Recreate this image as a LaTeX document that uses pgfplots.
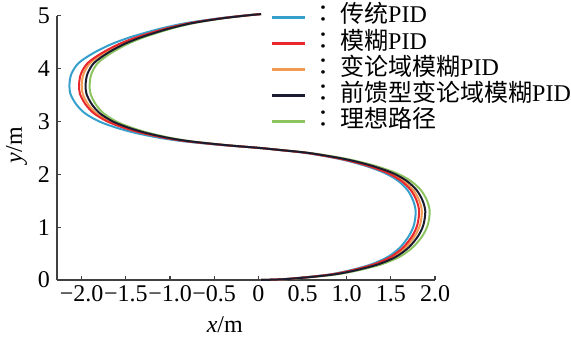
\documentclass[border=0pt]{standalone}
\usepackage{fontspec}
\setmainfont{Liberation Serif}
\newfontfamily\cjk{Noto Sans CJK SC}
\newfontfamily\cjktc{Noto Sans CJK TC}
\usepackage{pgfplots}
\pgfplotsset{compat=1.18}
\definecolor{cblue}{HTML}{35A0CC}
\definecolor{cred}{HTML}{E8282C}
\definecolor{corange}{HTML}{F29A52}
\definecolor{cblack}{HTML}{1C1C30}
\definecolor{cgreen}{HTML}{8DC460}
\definecolor{axgray}{HTML}{404040}
\newcommand{\lsep}{\makebox[17pt][c]{\cjktc ：}}
\begin{document}
\begin{tikzpicture}
\useasboundingbox (-28.5pt,-31pt) rectangle (257pt,140pt);
\begin{axis}[
  scale only axis, width=189pt, height=132.15pt,
  xmin=-2.28, xmax=2.0, ymin=0, ymax=5,
  clip=false,
  axis x line*=bottom, axis y line*=left,
  axis line style={-, draw=axgray, line width=0.6pt},
  tick style={draw=axgray, line width=0.6pt},
  tick align=inside, major tick length=2.2pt,
  xtick={-2,-1.5,-1,-0.5,0,0.5,1,1.5,2},
  xticklabels={−2.0,−1.5,−1.0,−0.5,0,0.5,1.0,1.5,2.0},
  ytick={0,1,2,3,4,5},
  /pgf/number format/assume math mode=true,
  font=\fontsize{12}{14}\selectfont,
  ticklabel style={font=\fontsize{12}{14}\selectfont},
  xticklabel style={inner sep=2.5pt},
  xlabel={\textit{x}/m}, ylabel={\textit{y}/m},
  xlabel style={at={(axis description cs:0.444,-0.2005)}, anchor=base},
  ylabel style={at={(axis description cs:-0.0926,0.51)}, anchor=base},
  legend cell align=left,
  legend style={draw=none, fill=none, at={(0.564,1.045)}, anchor=north west,
    font=\fontsize{12}{14}\selectfont, row sep=0pt, inner sep=0pt,
    column sep=0pt,
    nodes={inner sep=0pt, text height=9.35pt, text depth=3.7pt}},
  legend image code/.code={\draw[#1, line width=1.3pt] (0pt,0pt) -- (16.5pt,0pt);},
  every axis plot/.append style={line width=1pt, smooth, tension=0.5, no markers},
]
\addlegendimage{cblue}\addlegendentry{\lsep{\cjk 传统}PID}
\addlegendimage{cred}\addlegendentry{\lsep{\cjk 模糊}PID}
\addlegendimage{corange}\addlegendentry{\lsep{\cjk 变论域模糊}PID}
\addlegendimage{cblack}\addlegendentry{\lsep{\cjk 前馈型变论域模糊}PID}
\addlegendimage{cgreen}\addlegendentry{\lsep{\cjk 理想路径}}

% ideal path
\addplot[cgreen, forget plot] coordinates {
(0.03,0.00) (0.30,0.015) (0.60,0.055) (0.90,0.11) (1.15,0.19) (1.40,0.30)
(1.60,0.44) (1.75,0.62) (1.86,0.84) (1.92,1.05) (1.94,1.30) (1.91,1.50)
(1.84,1.70) (1.72,1.88) (1.55,2.03) (1.30,2.17) (1.00,2.29) (0.60,2.40)
(0.25,2.46) (0.00,2.50) (-0.35,2.55) (-0.74,2.62) (-1.00,2.69) (-1.26,2.79)
(-1.45,2.89) (-1.61,3.00) (-1.75,3.15) (-1.84,3.32) (-1.90,3.52) (-1.91,3.70)
(-1.89,3.90) (-1.82,4.10) (-1.68,4.28) (-1.50,4.45) (-1.30,4.59) (-1.00,4.75)
(-0.73,4.86) (-0.40,4.95) (-0.10,5.01) (0.03,5.03)
};
% traditional PID
\addplot[cblue, forget plot] coordinates {
(0.028,0.00) (0.275,0.015) (0.551,0.055) (0.826,0.11) (1.056,0.19) (1.285,0.30)
(1.469,0.44) (1.607,0.62) (1.707,0.84) (1.763,1.05) (1.781,1.30) (1.753,1.50)
(1.689,1.70) (1.579,1.88) (1.423,2.03) (1.193,2.17) (0.918,2.29) (0.551,2.40)
(0.230,2.46) (0.00,2.50) (-0.392,2.55) (-0.829,2.62) (-1.120,2.69) (-1.411,2.79)
(-1.624,2.89) (-1.803,3.00) (-1.960,3.15) (-2.061,3.32) (-2.128,3.52) (-2.139,3.70)
(-2.117,3.90) (-2.038,4.10) (-1.882,4.28) (-1.680,4.45) (-1.456,4.59) (-1.120,4.75)
(-0.818,4.86) (-0.448,4.95) (-0.112,5.01) (0.03,5.03)
};
% variable universe fuzzy PID
\addplot[corange, forget plot] coordinates {
(0.029,0.00) (0.286,0.015) (0.572,0.055) (0.859,0.11) (1.097,0.19) (1.336,0.30)
(1.526,0.44) (1.670,0.62) (1.774,0.84) (1.832,1.05) (1.851,1.30) (1.822,1.50)
(1.755,1.70) (1.641,1.88) (1.479,2.03) (1.240,2.17) (0.954,2.29) (0.572,2.40)
(0.239,2.46) (0.00,2.50) (-0.366,2.55) (-0.775,2.62) (-1.047,2.69) (-1.319,2.79)
(-1.518,2.89) (-1.686,3.00) (-1.832,3.15) (-1.926,3.32) (-1.989,3.52) (-2.000,3.70)
(-1.979,3.90) (-1.906,4.10) (-1.759,4.28) (-1.571,4.45) (-1.361,4.59) (-1.047,4.75)
(-0.764,4.86) (-0.419,4.95) (-0.105,5.01) (0.03,5.03)
};
% fuzzy PID
\addplot[cred, forget plot] coordinates {
(0.028,0.00) (0.281,0.015) (0.563,0.055) (0.844,0.11) (1.079,0.19) (1.313,0.30)
(1.501,0.44) (1.642,0.62) (1.745,0.84) (1.801,1.05) (1.820,1.30) (1.792,1.50)
(1.726,1.70) (1.613,1.88) (1.454,2.03) (1.219,2.17) (0.938,2.29) (0.563,2.40)
(0.235,2.46) (0.00,2.50) (-0.372,2.55) (-0.787,2.62) (-1.063,2.69) (-1.339,2.79)
(-1.541,2.89) (-1.711,3.00) (-1.860,3.15) (-1.956,3.32) (-2.020,3.52) (-2.030,3.70)
(-2.009,3.90) (-1.935,4.10) (-1.786,4.28) (-1.595,4.45) (-1.382,4.59) (-1.063,4.75)
(-0.776,4.86) (-0.425,4.95) (-0.106,5.01) (0.03,5.03)
};
% feedforward variable universe fuzzy PID
\addplot[cblack, forget plot] coordinates {
(0.029,0.00) (0.292,0.015) (0.584,0.055) (0.877,0.11) (1.120,0.19) (1.364,0.30)
(1.558,0.44) (1.705,0.62) (1.812,0.84) (1.870,1.05) (1.890,1.30) (1.860,1.50)
(1.792,1.70) (1.675,1.88) (1.510,2.03) (1.266,2.17) (0.974,2.29) (0.584,2.40)
(0.244,2.46) (0.00,2.50) (-0.358,2.55) (-0.758,2.62) (-1.024,2.69) (-1.290,2.79)
(-1.485,2.89) (-1.649,3.00) (-1.792,3.15) (-1.884,3.32) (-1.946,3.52) (-1.956,3.70)
(-1.935,3.90) (-1.864,4.10) (-1.720,4.28) (-1.536,4.45) (-1.331,4.59) (-1.024,4.75)
(-0.748,4.86) (-0.410,4.95) (-0.102,5.01) (0.03,5.03)
};
\end{axis}
\end{tikzpicture}
\end{document}
